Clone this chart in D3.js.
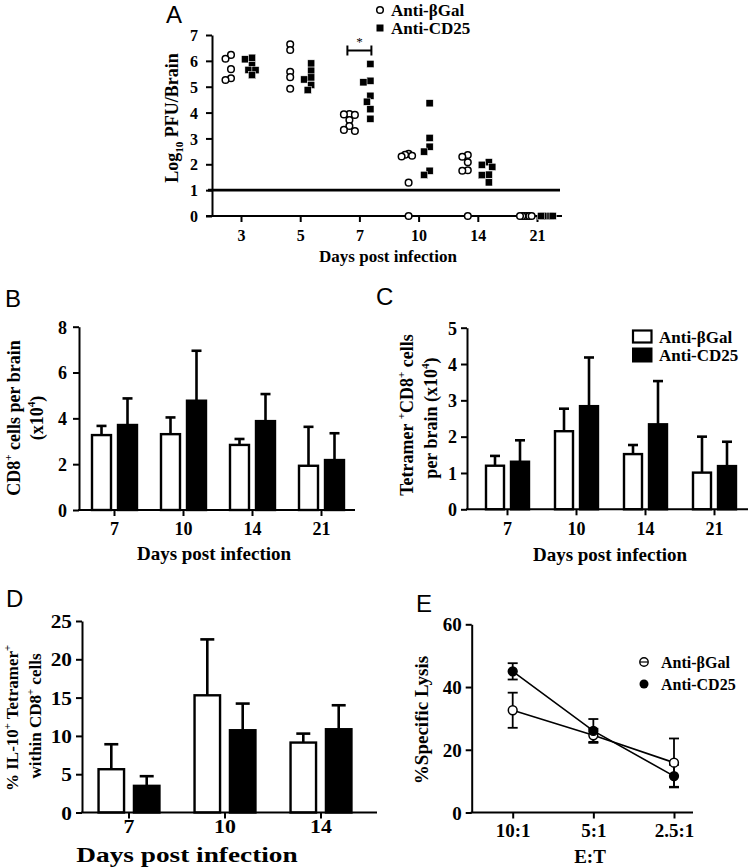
<!DOCTYPE html>
<html><head><meta charset="utf-8">
<script src="https://cdn.jsdelivr.net/npm/d3@7"></script>
<style>html,body{margin:0;padding:0;background:#fff;}svg{display:block;}</style>
</head><body>
<svg id="chart" width="750" height="868"></svg>
<script>
// ---------------- DATA ----------------
// Panel A: log10 PFU per brain
const daysA = ["3", "5", "7", "10", "14", "21"];
const pfuBGal = [
  [6.23, 6.08, 5.68, 5.33, 5.26],
  [6.64, 6.42, 5.58, 5.37, 4.92],
  [3.94, 3.93, 3.91, 3.71, 3.48, 3.33, 3.29],
  [2.41, 2.37, 2.33, 2.30, 1.29, 0],
  [2.36, 2.29, 2.08, 1.77, 1.75, 0],
  [0, 0, 0, 0, 0, 0]
];
const pfuCD25 = [
  [6.12, 6.06, 5.84, 5.65, 5.64, 5.45],
  [5.90, 5.62, 5.36, 5.28, 5.07, 4.87],
  [5.88, 5.23, 5.17, 4.65, 4.42, 4.13, 3.76],
  [4.36, 3.02, 2.68, 2.49, 1.75, 1.59],
  [2.08, 1.98, 1.90, 1.60, 1.58, 1.30],
  [0, 0, 0, 0, 0, 0]
];
const pfuTicks = [0, 1, 2, 3, 4, 5, 6, 7];
const detectionLimit = 1;
const sigDay = "7";
const sigLevel = 6.4;

// Panel B: CD8+ cells per brain (x10^4)
const daysB = ["7", "10", "14", "21"];
const cd8BGal = [3.27, 3.31, 2.84, 1.93];
const cd8BGalErr = [0.40, 0.73, 0.26, 1.70];
const cd8CD25 = [3.71, 4.77, 3.88, 2.18];
const cd8CD25Err = [1.16, 2.18, 1.18, 1.17];
const cd8Ticks = [0, 2, 4, 6, 8];

// Panel C: Tetramer+ CD8+ cells per brain (x10^4)
const daysC = ["7", "10", "14", "21"];
const tetBGal = [1.20, 2.15, 1.52, 1.01];
const tetBGalErr = [0.27, 0.62, 0.25, 0.99];
const tetCD25 = [1.31, 2.84, 2.34, 1.19];
const tetCD25Err = [0.59, 1.34, 1.19, 0.67];
const tetTicks = [0, 1, 2, 3, 4, 5];

// Panel D: % IL-10+ Tetramer+ within CD8+
const daysD = ["7", "10", "14"];
const il10BGal = [5.65, 15.30, 9.13];
const il10BGalErr = [3.26, 7.30, 1.17];
const il10CD25 = [3.48, 10.74, 10.87];
const il10CD25Err = [1.26, 3.48, 3.13];
const il10Ticks = [0, 5, 10, 15, 20, 25];

// Panel E: % specific lysis
const ratios = ["10:1", "5:1", "2.5:1"];
const lysisBGal = [32.6, 24.6, 15.9];
const lysisBGalErr = [5.6, 2.1, 7.7];
const lysisCD25 = [45.0, 26.0, 11.6];
const lysisCD25Err = [2.6, 3.8, 3.6];
const lysisTicks = [0, 20, 40, 60];

const seriesNames = ["Anti-\u03B2Gal", "Anti-CD25"];

// ---------------- HELPERS ----------------
const SERIF = "'Liberation Serif','Times New Roman',serif";
const SANS = "'Liberation Sans',Arial,sans-serif";
const svg = d3.select("#chart");

function rich(text, parts, fs) {
  let shift = 0;
  parts.forEach(p => {
    const target = p.sup ? -0.42 * fs : (p.sub ? 0.28 * fs : 0);
    const ts = text.append("tspan").text(p.t).attr("dy", target - shift);
    if (p.sup || p.sub) ts.attr("font-size", fs * 0.62);
    shift = target;
  });
}
function label(x, y, str, fs, opts = {}) {
  const t = svg.append("text")
    .attr("transform", `translate(${x},${y})` + (opts.rot ? " rotate(-90)" : "") + (opts.sx ? ` scale(${opts.sx},1)` : ""))
    .attr("text-anchor", opts.anchor || "middle")
    .attr("font-family", opts.family || SERIF)
    .attr("font-weight", opts.weight || "bold")
    .attr("font-size", fs)
    .attr("fill", "#000");
  if (typeof str === "string") t.text(str); else rich(t, str, fs);
  return t;
}
function styleAxis(g, fs, sx) {
  g.selectAll("text").attr("font-family", SERIF).attr("font-weight", "bold")
    .attr("font-size", fs).attr("fill", "#000");
  if (sx) g.selectAll("text").attr("transform", `scale(${sx},1)`);
  g.selectAll(".tick line").attr("stroke", "#000").attr("stroke-width", 2);
  g.select(".domain").attr("stroke", "#000").attr("stroke-width", 2);
}
function leftAxis(scale, ticks, x, fs, labelX, sx) {
  const g = svg.append("g").attr("transform", `translate(${x},0)`)
    .call(d3.axisLeft(scale).tickValues(ticks).tickSize(6).tickSizeOuter(0).tickFormat(d3.format("d")));
  styleAxis(g, fs, sx);
  g.selectAll("text").attr("x", labelX).attr("dy", "0.35em");
  return g;
}
function bottomAxis(scale, y, x0, x1, fs, baseline, sx) {
  const g = svg.append("g").attr("transform", `translate(0,${y})`)
    .call(d3.axisBottom(scale).tickSize(6).tickSizeOuter(0));
  g.select(".domain").remove();
  g.append("line").attr("x1", x0).attr("x2", x1).attr("y1", 0).attr("y2", 0)
    .attr("stroke", "#000").attr("stroke-width", 2);
  styleAxis(g, fs, sx);
  g.selectAll("text").attr("y", baseline).attr("dy", 0);
  return g;
}
function dodge(values, cx, y, minDist, step, maxHalf) {
  const order = values.map((v, i) => i).sort((a, b) => values[b] - values[a]);
  const placed = [], off = new Array(values.length).fill(0);
  order.forEach(i => {
    const py = y(values[i]);
    for (let k = 0; k < 60; k++) {
      const o = (k % 2 === 1 ? -1 : 1) * Math.ceil(k / 2) * step;
      if (placed.every(p => Math.hypot(p.x - o, p.y - py) >= minDist)) {
        placed.push({x: o, y: py}); off[i] = o; break;
      }
    }
  });
  const ext = d3.max(off, Math.abs) || 0;
  const s = ext > maxHalf ? maxHalf / ext : 1;
  return values.map((v, i) => ({v, x: cx + off[i] * s, y: y(v)}));
}
function barPanel(cats, g1, e1, g2, e2, x, y, bw, off, capW) {
  const data = cats.map((c, i) => [
    {c, v: g1[i], e: e1[i], fill: "#fff", dx: -off},
    {c, v: g2[i], e: e2[i], fill: "#000", dx: off}
  ]).flat();
  const cx = d => x(d.c) + x.bandwidth() / 2 + d.dx;
  svg.append("g").selectAll("line").data(data).join("line")
    .attr("x1", cx).attr("x2", cx).attr("y1", d => y(d.v)).attr("y2", d => y(d.v + d.e))
    .attr("stroke", "#000").attr("stroke-width", 2.6);
  svg.append("g").selectAll("line").data(data).join("line")
    .attr("x1", d => cx(d) - capW / 2).attr("x2", d => cx(d) + capW / 2)
    .attr("y1", d => y(d.v + d.e)).attr("y2", d => y(d.v + d.e))
    .attr("stroke", "#000").attr("stroke-width", 2.6);
  svg.append("g").selectAll("rect").data(data).join("rect")
    .attr("x", d => cx(d) - bw / 2).attr("width", bw)
    .attr("y", d => y(d.v)).attr("height", d => y(0) - y(d.v))
    .attr("fill", d => d.fill).attr("stroke", "#000").attr("stroke-width", 2.4);
}

// ---------------- PANEL A ----------------
{
  const xA = d3.scalePoint().domain(daysA).range([241, 537]);
  const yA = d3.scaleLinear().domain([0, 7]).range([216, 35]);
  leftAxis(yA, pfuTicks, 212, 16, -14);
  bottomAxis(xA, 216, 206, 562, 16, 25);
  svg.append("line").attr("x1", 208).attr("x2", 560)
    .attr("y1", yA(detectionLimit)).attr("y2", yA(detectionLimit))
    .attr("stroke", "#000").attr("stroke-width", 2.8);
  daysA.forEach((d, i) => {
    const circ = dodge(pfuBGal[i], xA(d) - 10, yA, 5.2, 5.5, 7);
    const sq = dodge(pfuCD25[i], xA(d) + 11, yA, 6.4, 5.5, 7);
    svg.append("g").selectAll("circle").data(circ).join("circle")
      .attr("cx", p => p.x).attr("cy", p => p.y).attr("r", 3.3)
      .attr("fill", "#fff").attr("stroke", "#000").attr("stroke-width", 1.5);
    svg.append("g").selectAll("rect").data(sq).join("rect")
      .attr("x", p => p.x - 3.6).attr("y", p => p.y - 3.6).attr("width", 7.2).attr("height", 7.2)
      .attr("fill", "#000").attr("stroke", "#fff").attr("stroke-width", 0.5);
  });
  const sx = xA(sigDay), sy = yA(sigLevel);
  svg.append("path").attr("d", `M${sx - 12},${sy - 5}V${sy + 5}M${sx - 12},${sy}H${sx + 12}M${sx + 12},${sy - 5}V${sy + 5}`)
    .attr("stroke", "#000").attr("stroke-width", 2).attr("fill", "none");
  label(sx, sy - 5, "*", 13, {weight: "normal"});
  svg.append("circle").attr("cx", 380).attr("cy", 10).attr("r", 3.3)
    .attr("fill", "#fff").attr("stroke", "#000").attr("stroke-width", 1.5);
  svg.append("rect").attr("x", 376.5).attr("y", 24.5).attr("width", 7).attr("height", 7).attr("fill", "#000");
  label(391, 16, seriesNames[0], 17, {anchor: "start"});
  label(391, 34, seriesNames[1], 17, {anchor: "start"});
  label(178, 118, [{t: "Log"}, {t: "10", sub: true}, {t: " PFU/Brain"}], 18, {rot: true});
  label(388, 262, "Days post infection", 17);
  label(166, 23, "A", 24, {family: SANS, weight: "normal", anchor: "start"});
}

// ---------------- PANEL B ----------------
{
  const xB = d3.scaleBand().domain(daysB).range([80, 356]);
  const yB = d3.scaleLinear().domain([0, 8]).range([510, 326.7]);
  barPanel(daysB, cd8BGal, cd8BGalErr, cd8CD25, cd8CD25Err, xB, yB, 19, 13, 10);
  leftAxis(yB, cd8Ticks, 79, 18, -12);
  bottomAxis(xB, 510, 78, 355, 18, 25);
  label(19.5, 418, [{t: "CD8"}, {t: "+", sup: true}, {t: " cells per brain"}], 18, {rot: true});
  label(43, 418, [{t: "(x10"}, {t: "4", sup: true}, {t: ")"}], 18, {rot: true});
  label(214, 560, "Days post infection", 19);
  label(5, 307, "B", 24, {family: SANS, weight: "normal", anchor: "start"});
}

// ---------------- PANEL C ----------------
{
  const xC = d3.scaleBand().domain(daysC).range([473, 749]);
  const yC = d3.scaleLinear().domain([0, 5]).range([509.3, 327.7]);
  barPanel(daysC, tetBGal, tetBGalErr, tetCD25, tetCD25Err, xC, yC, 18, 12.5, 10);
  leftAxis(yC, tetTicks, 467, 18, -10);
  bottomAxis(xC, 509.3, 466, 748, 18, 25.7);
  label(412.5, 415, [{t: "Tetramer "}, {t: "+", sup: true}, {t: "CD8"}, {t: "+", sup: true}, {t: " cells"}], 18, {rot: true});
  label(436.5, 418, [{t: "per brain (x10"}, {t: "4", sup: true}, {t: ")"}], 18, {rot: true});
  label(610, 561, "Days post infection", 19);
  label(376, 305, "C", 24, {family: SANS, weight: "normal", anchor: "start"});
  svg.append("rect").attr("x", 633).attr("y", 330.5).attr("width", 18.5).attr("height", 12)
    .attr("fill", "#fff").attr("stroke", "#000").attr("stroke-width", 2.2);
  svg.append("rect").attr("x", 632).attr("y", 347.5).attr("width", 20.5).attr("height", 15).attr("fill", "#000");
  label(659, 343, seriesNames[0], 17, {anchor: "start"});
  label(659, 361, seriesNames[1], 17, {anchor: "start"});
}

// ---------------- PANEL D ----------------
{
  const xD = d3.scaleBand().domain(daysD).range([81, 369]);
  const yD = d3.scaleLinear().domain([0, 25]).range([812.5, 621]);
  barPanel(daysD, il10BGal, il10BGalErr, il10CD25, il10CD25Err, xD, yD, 25.5, 17.7, 14);
  leftAxis(yD, il10Ticks, 82, 19, -9, 1.12);
  bottomAxis(xD, 812.5, 81, 377, 19, 20.5, 1.15);
  label(18, 718, [{t: "% IL-10"}, {t: "+", sup: true}, {t: " Tetramer"}, {t: "+", sup: true}], 17, {rot: true});
  label(41, 716, [{t: "within CD8"}, {t: "+", sup: true}, {t: " cells"}], 17, {rot: true});
  label(187, 862, "Days post infection", 21, {sx: 1.3});
  label(6, 607, "D", 24, {family: SANS, weight: "normal", anchor: "start"});
}

// ---------------- PANEL E ----------------
{
  const xE = d3.scalePoint().domain(ratios).range([512.7, 674]);
  const yE = d3.scaleLinear().domain([0, 60]).range([812.5, 624.3]);
  leftAxis(yE, lysisTicks, 471.7, 19, -10);
  bottomAxis(xE, 812.5, 470.7, 693, 19, 24.5);
  const series = [
    {vals: lysisBGal, errs: lysisBGalErr, fill: "#fff"},
    {vals: lysisCD25, errs: lysisCD25Err, fill: "#000"}
  ];
  const line = d3.line().x(d => xE(d.c)).y(d => yE(d.v));
  series.forEach(s => {
    const pts = ratios.map((c, i) => ({c, v: s.vals[i], e: s.errs[i]}));
    svg.append("path").datum(pts).attr("d", line).attr("fill", "none")
      .attr("stroke", "#000").attr("stroke-width", 1.6);
    const eg = svg.append("g").attr("stroke", "#000").attr("stroke-width", 1.8);
    eg.selectAll(".v").data(pts).join("line")
      .attr("x1", d => xE(d.c)).attr("x2", d => xE(d.c))
      .attr("y1", d => yE(d.v - d.e)).attr("y2", d => yE(d.v + d.e));
    eg.selectAll(".t").data(pts).join("line")
      .attr("x1", d => xE(d.c) - 5).attr("x2", d => xE(d.c) + 5)
      .attr("y1", d => yE(d.v + d.e)).attr("y2", d => yE(d.v + d.e));
    eg.selectAll(".b").data(pts).join("line")
      .attr("x1", d => xE(d.c) - 5).attr("x2", d => xE(d.c) + 5)
      .attr("y1", d => yE(d.v - d.e)).attr("y2", d => yE(d.v - d.e));
    s.pts = pts;
  });
  series.forEach(s => {
    svg.append("g").selectAll("circle").data(s.pts).join("circle")
      .attr("cx", d => xE(d.c)).attr("cy", d => yE(d.v)).attr("r", 4.4)
      .attr("fill", s.fill).attr("stroke", "#000").attr("stroke-width", 1.5);
  });
  svg.append("circle").attr("cx", 644).attr("cy", 662).attr("r", 4.2)
    .attr("fill", "#fff").attr("stroke", "#000").attr("stroke-width", 1.4);
  svg.append("line").attr("x1", 640).attr("x2", 648).attr("y1", 662).attr("y2", 662)
    .attr("stroke", "#000").attr("stroke-width", 1.2);
  svg.append("circle").attr("cx", 644).attr("cy", 684).attr("r", 4.5).attr("fill", "#000");
  label(661, 667.5, seriesNames[0], 16, {anchor: "start"});
  label(661, 689.5, seriesNames[1], 16, {anchor: "start"});
  label(427.7, 720, "%Specific Lysis", 19, {rot: true});
  label(590, 863, "E:T", 19);
  label(416, 612, "E", 24, {family: SANS, weight: "normal", anchor: "start"});
}
</script>
</body></html>
